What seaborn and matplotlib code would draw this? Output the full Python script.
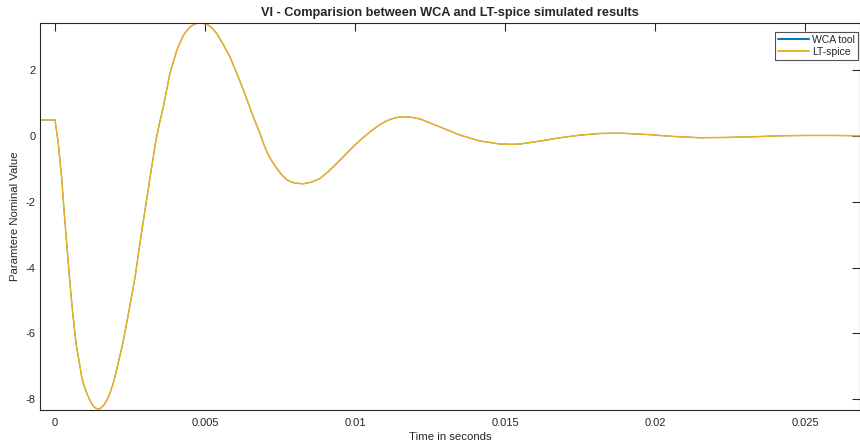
import numpy as np
import pandas as pd
import matplotlib
matplotlib.use('Agg')
import matplotlib.pyplot as plt
import seaborn as sns

#---------------------------------------------------------
f_out='out.png'
col_wca='#0072BD'
col_lt='#EDB120'

# time (s) and value
t=[-0.0005, 0.0, 0.00011, 0.00022, 0.0003, 0.00039, 0.00048, 0.00058, 0.0007, 0.00089,
   0.00097, 0.00106, 0.00116, 0.00125, 0.00135, 0.00144, 0.00153, 0.00163, 0.00173, 0.00183,
   0.00192, 0.002, 0.00226, 0.00247, 0.00267, 0.00283, 0.003, 0.00317, 0.00336, 0.00348,
   0.00361, 0.00383, 0.00406, 0.00428, 0.0045, 0.00468, 0.00488, 0.00505, 0.00522, 0.00539,
   0.0056, 0.00583, 0.00605, 0.00628, 0.00661, 0.00683, 0.00694, 0.00706, 0.00722, 0.00739,
   0.00755, 0.00772, 0.00786, 0.008, 0.00828, 0.00855, 0.00883, 0.00911, 0.00939, 0.00966,
   0.00994, 0.0102, 0.0105, 0.01078, 0.01106, 0.01135, 0.01161, 0.0119, 0.01217, 0.01283,
   0.0135, 0.01417, 0.01483, 0.0152, 0.0155, 0.01617, 0.01683, 0.0175, 0.01817, 0.01883,
   0.01972, 0.02061, 0.0215, 0.02239, 0.02328, 0.02417, 0.02506, 0.02594, 0.02683]
wca=[0.49, 0.49, -0.22, -1.24, -2.25, -3.26, -4.28, -5.29, -6.30, -7.32,
     -7.60, -7.82, -8.03, -8.18, -8.27, -8.30, -8.27, -8.18, -8.03, -7.82,
     -7.58, -7.32, -6.30, -5.29, -4.28, -3.26, -2.25, -1.24, -0.15, 0.38,
     0.89, 1.91, 2.61, 3.07, 3.32, 3.42, 3.44, 3.41, 3.30, 3.12,
     2.80, 2.41, 1.93, 1.40, 0.59, 0.08, -0.20, -0.48, -0.75, -0.98,
     -1.17, -1.32, -1.39, -1.43, -1.45, -1.40, -1.29, -1.08, -0.83, -0.58,
     -0.32, -0.10, 0.13, 0.32, 0.47, 0.56, 0.59, 0.57, 0.52, 0.28,
     0.03, -0.15, -0.24, -0.25, -0.24, -0.15, -0.05, 0.03, 0.08, 0.09,
     0.05, -0.01, -0.05, -0.04, -0.02, 0.01, 0.02, 0.02, 0.01]
ltspice=list(wca)

xticks=[0, 0.005, 0.01, 0.015, 0.02, 0.025]
xtick_lbl=['0', '0.005', '0.01', '0.015', '0.02', '0.025']
yticks=[-8, -6, -4, -2, 0, 2]

#--------------------------------------------------------
df_wca=pd.DataFrame({'time': t, 'val': wca})
df_lt=pd.DataFrame({'time': t, 'val': ltspice})

sns.set_style('white')
plt.rcParams['font.family']=['Liberation Sans', 'DejaVu Sans']
plt.rcParams['axes.edgecolor']='#262626'
plt.rcParams['axes.linewidth']=0.8
plt.rcParams['axes.unicode_minus']=False

fig=plt.figure(figsize=(8.6, 4.45), dpi=100)
ax=fig.add_axes([40/860, 1-410/445, 820/860, 387/445])
sns.lineplot(x='time', y='val', data=df_wca, color=col_wca, linewidth=0.7,
	ax=ax, sort=False, estimator=None, label='WCA tool')
sns.lineplot(x='time', y='val', data=df_lt, color=col_lt, linewidth=1.1,
	ax=ax, sort=False, estimator=None, label='LT-spice')

#adjust
ax.set_xlim(-0.0005, 0.02683)
ax.set_ylim(-8.33, 3.44)
ax.set_xticks(xticks)
ax.set_xticklabels(xtick_lbl)
ax.set_yticks(yticks)
ax.tick_params(direction='in', length=6, width=0.8, colors='#262626',
	labelsize=8, top=True, right=True)
ax.tick_params(axis='x', pad=6)
ax.tick_params(axis='y', pad=3)
for s in ax.spines.values():
	s.set_visible(True)
ax.set_title('VI - Comparision between WCA and LT-spice simulated results',
	fontsize=9.2, weight='bold', pad=5)
ax.set_xlabel('Time in seconds', fontsize=8.2, labelpad=3)
ax.set_ylabel('Paramtere Nominal Value', fontsize=8.2, labelpad=4)
leg=ax.legend(loc='upper right', fontsize=7.5, frameon=True, fancybox=False,
	borderpad=0.3, handlelength=3.0, handletextpad=0.3, labelspacing=0.2,
	borderaxespad=0, bbox_to_anchor=(0.998, 0.977))
leg.get_frame().set_edgecolor('#262626')
leg.get_frame().set_linewidth(0.8)
for ln in leg.get_lines():
	ln.set_linewidth(1.4)

#save
fig.savefig(f_out, dpi=100)
plt.close()
